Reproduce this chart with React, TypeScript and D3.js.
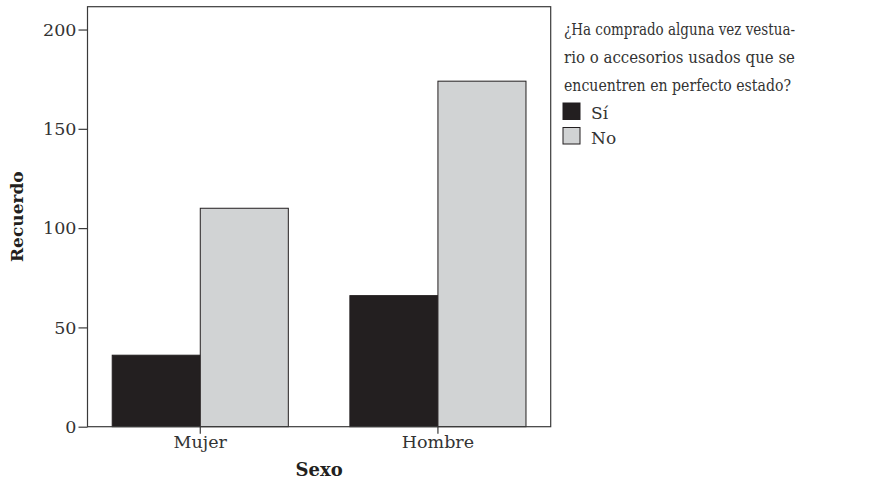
import React, { useEffect, useRef } from 'react';
import * as d3 from 'd3';

const categories = ['Mujer', 'Hombre'];
const series = ['Sí', 'No'];
const siValues = [36, 66];
const noValues = [110, 174];
const yTicks = [0, 50, 100, 150, 200];
const yMax = 211.5;
const legendTitle = [
  '¿Ha comprado alguna vez vestua-',
  'rio o accesorios usados que se',
  'encuentren en perfecto estado?',
];

const seriesColors = ['#231f20', '#d1d3d4'];
const ink = '#231f20';
const font = '"DejaVu Serif", serif';

export default function App() {
  const ref = useRef<SVGSVGElement>(null);

  useEffect(() => {
    const width = 870;
    const height = 482;
    const margin = { top: 6.7, left: 87.5, bottom: 55.3, right: 319.3 };
    const iwidth = width - margin.left - margin.right;
    const iheight = height - margin.top - margin.bottom;

    const svg = d3.select(ref.current);
    svg.html('');
    svg.attr('width', width).attr('height', height);

    const g = svg.append('g').attr('transform', `translate(${margin.left},${margin.top})`);

    const y = d3.scaleLinear().domain([0, yMax]).range([iheight, 0]);
    const x = d3
      .scaleBand()
      .domain(categories)
      .range([0, iwidth])
      .paddingInner(0.259)
      .paddingOuter(0.104);
    const xs = d3.scaleBand().domain(series).range([0, x.bandwidth()]).padding(0);

    const rows = categories.map((c, i) => ({ cat: c, vals: [siValues[i], noValues[i]] }));

    const groups = g
      .selectAll('g.grp')
      .data(rows)
      .enter()
      .append('g')
      .attr('class', 'grp')
      .attr('transform', (d) => `translate(${x(d.cat)},0)`);

    groups
      .selectAll('rect')
      .data((d) => d.vals.map((v, j) => ({ s: series[j], v, j })))
      .enter()
      .append('rect')
      .attr('x', (d) => xs(d.s)!)
      .attr('y', (d) => y(d.v))
      .attr('width', xs.bandwidth())
      .attr('height', (d) => iheight - y(d.v))
      .style('fill', (d) => seriesColors[d.j])
      .style('stroke', ink)
      .style('stroke-width', 1);

    // frame
    g.append('rect')
      .attr('x', 0)
      .attr('y', 0)
      .attr('width', iwidth)
      .attr('height', iheight)
      .style('fill', 'none')
      .style('stroke', '#3a3a3a')
      .style('stroke-width', 1.2);

    const yAxis = g
      .append('g')
      .call(d3.axisLeft(y).tickValues(yTicks).tickSize(9).tickPadding(2));
    yAxis.select('.domain').remove();

    const xAxis = g
      .append('g')
      .attr('transform', `translate(0,${iheight})`)
      .call(d3.axisBottom(x).tickSize(7).tickPadding(2));
    xAxis.select('.domain').remove();

    [yAxis, xAxis].forEach((a) => {
      a.selectAll('text').style('font-family', font).style('font-size', '17.5px').style('fill', '#333');
      a.selectAll('line').style('stroke', '#3a3a3a').style('stroke-width', 1.2);
    });

    svg
      .append('text')
      .attr('transform', `translate(23,${margin.top + iheight / 2}) rotate(-90)`)
      .attr('text-anchor', 'middle')
      .style('font-family', font)
      .style('font-weight', 'bold')
      .style('font-size', '17px')
      .style('fill', ink)
      .text('Recuerdo');

    svg
      .append('text')
      .attr('x', margin.left + iwidth / 2)
      .attr('y', 476)
      .attr('text-anchor', 'middle')
      .style('font-family', font)
      .style('font-weight', 'bold')
      .style('font-size', '18px')
      .style('fill', ink)
      .text('Sexo');

    // legend
    const lg = svg.append('g').attr('transform', 'translate(564,0)');
    const lineY = [35, 62.7, 90.5];
    const lineW = [231, 231, 227];
    lg.selectAll('text.title')
      .data(legendTitle)
      .enter()
      .append('text')
      .attr('class', 'title')
      .attr('x', 0)
      .attr('y', (_, i) => lineY[i])
      .attr('textLength', (_, i) => lineW[i])
      .attr('lengthAdjust', 'spacingAndGlyphs')
      .style('font-family', font)
      .style('font-size', '17px')
      .style('fill', '#333')
      .text((d) => d);

    const items = lg
      .selectAll('g.item')
      .data(series)
      .enter()
      .append('g')
      .attr('class', 'item')
      .attr('transform', (_, i) => `translate(0,${103 + i * 24.5})`);
    items
      .append('rect')
      .attr('x', -1)
      .attr('y', 0)
      .attr('width', 17)
      .attr('height', 16.5)
      .style('fill', (_, i) => seriesColors[i])
      .style('stroke', ink)
      .style('stroke-width', 1);
    items
      .append('text')
      .attr('x', 27)
      .attr('y', 16)
      .style('font-family', font)
      .style('font-size', '17px')
      .style('fill', '#333')
      .text((d) => d);
  }, []);

  return (
    <svg ref={ref} style={{ position: 'absolute', left: 0, top: 0 }}></svg>
  );
}
